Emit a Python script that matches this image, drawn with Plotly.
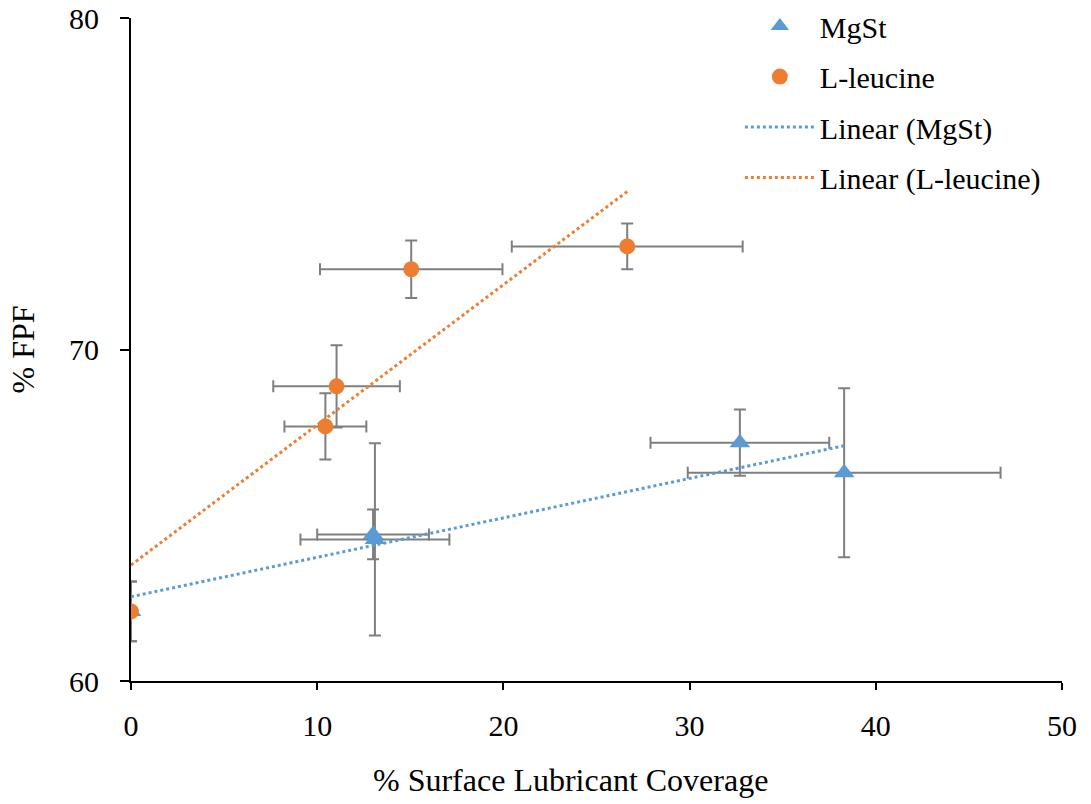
import numpy as np
import plotly.graph_objects as go

# MgSt data
mgst_x = [0.0, 13.0, 13.1, 32.7, 38.3]
mgst_y = [62.1, 64.42, 64.27, 67.19, 66.28]
mgst_xerr = [0.0, 3.0, 4.0, 4.8, 8.4]
mgst_yerr = [0.9, 0.75, 2.9, 1.0, 2.55]

# L-leucine data
leu_x = [0.0, 10.44, 11.04, 15.05, 26.65]
leu_y = [62.1, 67.68, 68.89, 72.42, 73.11]
leu_xerr = [0.0, 2.2, 3.4, 4.9, 6.2]
leu_yerr = [0.9, 1.0, 1.24, 0.87, 0.69]

BLUE = "#5B9BD5"
ORANGE = "#ED7D31"
GREY = "#7F7F7F"
FONT = "Liberation Serif, Times New Roman, serif"

def trend(x, y):
    k, b = np.polyfit(x, y, 1)
    xs = np.array([min(x), max(x)])
    return xs, k * xs + b

fig = go.Figure()

def err(arr):
    return dict(type="data", array=arr, color=GREY, thickness=2, width=6, visible=True)

fig.add_trace(go.Scatter(
    x=mgst_x, y=mgst_y, mode="markers", name="MgSt",
    marker=dict(symbol="triangle-up", size=18, color=BLUE),
    error_x=err(mgst_xerr), error_y=err(mgst_yerr), legendgroup="a"))
fig.add_trace(go.Scatter(
    x=leu_x, y=leu_y, mode="markers", name="L-leucine",
    marker=dict(symbol="circle", size=16, color=ORANGE),
    error_x=err(leu_xerr), error_y=err(leu_yerr), legendgroup="b"))

tx, ty = trend(mgst_x, mgst_y)
fig.add_trace(go.Scatter(x=tx, y=ty, mode="lines", name="Linear (MgSt)",
                         line=dict(color=BLUE, width=3, dash="dot"), legendgroup="c"))
tx, ty = trend(leu_x, leu_y)
fig.add_trace(go.Scatter(x=tx, y=ty, mode="lines", name="Linear (L-leucine)",
                         line=dict(color=ORANGE, width=3, dash="dot"), legendgroup="d"))

tickfont = dict(family=FONT, size=30, color="black")
titlefont = dict(family=FONT, size=32, color="black")
fig.update_layout(
    width=1091, height=804,
    margin=dict(l=131, r=29, t=18, b=123, autoexpand=False),
    paper_bgcolor="white", plot_bgcolor="white",
    font=dict(family=FONT, size=30, color="black"),
    showlegend=True,
    legend=dict(x=0.654, y=1.027, xanchor="left", yanchor="top",
                bgcolor="rgba(0,0,0,0)", font=dict(family=FONT, size=30, color="black"),
                traceorder="grouped", tracegroupgap=8.5, itemwidth=70),
    xaxis=dict(range=[0, 50], dtick=10, showline=True, linecolor="black", linewidth=2,
               ticks="outside", ticklen=7, tickwidth=2, tickcolor="black",
               showgrid=False, zeroline=False, ticklabelstandoff=10, automargin=False,
               tickfont=tickfont),
    yaxis=dict(range=[60, 80], dtick=10, showline=True, linecolor="black", linewidth=2,
               ticks="outside", ticklen=9, tickwidth=2, tickcolor="black",
               showgrid=False, zeroline=False, ticklabelstandoff=15, automargin=False,
               tickfont=tickfont,
               title=dict(text="% FPF", standoff=25, font=titlefont)),
    annotations=[dict(text="% Surface Lubricant Coverage", xref="paper", yref="paper",
                      x=0.4726, y=-0.1493, xanchor="center", yanchor="middle",
                      showarrow=False, font=titlefont)],
)

fig.write_html("out.html")
